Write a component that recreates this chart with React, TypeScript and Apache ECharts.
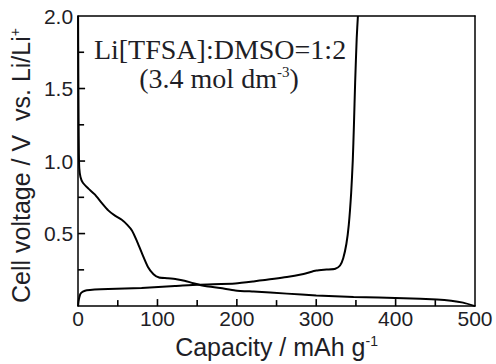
import React, { useEffect, useRef } from "react";
import * as echarts from "echarts";

// Capacity (mAh g^-1), voltage (V) pairs
const dischargeCapacity = [0, 0.3, 0.6, 1, 1.5, 3, 6, 13, 21, 30, 38, 46, 55, 62, 68, 74, 80, 88, 95, 102, 112, 124, 134, 145, 160, 179, 198, 221, 263, 300, 347, 410, 452, 470, 485, 500];
const dischargeVoltage = [2.0, 1.6, 1.3, 1.05, 0.95, 0.89, 0.85, 0.81, 0.77, 0.71, 0.66, 0.625, 0.595, 0.56, 0.52, 0.45, 0.37, 0.27, 0.22, 0.197, 0.192, 0.185, 0.175, 0.158, 0.138, 0.125, 0.108, 0.1, 0.086, 0.073, 0.063, 0.054, 0.045, 0.037, 0.024, 0.0];

const chargeCapacity = [0, 0.5, 1.5, 3, 6, 11, 38, 80, 122, 151, 198, 221, 263, 284, 300, 313, 324, 330, 334, 338, 341, 344, 346, 347.5, 349, 351, 352.5];
const chargeVoltage = [0.0, 0.03, 0.06, 0.085, 0.1, 0.11, 0.118, 0.125, 0.138, 0.148, 0.156, 0.17, 0.2, 0.222, 0.245, 0.252, 0.258, 0.28, 0.33, 0.43, 0.56, 0.78, 1.0, 1.25, 1.54, 1.85, 2.0];

const xTickLabels = ["0", "100", "200", "300", "400", "500"];
const yTickLabels = ["0.5", "1.0", "1.5", "2.0"];

// inward tick positions (major and minor)
const xTickValues = [50, 100, 150, 200, 250, 300, 350, 400, 450];
const yTickValues = [0.25, 0.5, 0.75, 1.0, 1.25, 1.5, 1.75];

const annotationLine1 = "Li[TFSA]:DMSO=1:2";
const annotationLine2 = "{a|(3.4 mol dm}{s|-3}{a|)}";

const pair = (xs: number[], ys: number[]) => xs.map((x, i) => [x, ys[i]]);

export default function App() {
  const ref = useRef<HTMLDivElement>(null);
  useEffect(() => {
    if (!ref.current) return;
    const chart = echarts.init(ref.current, null, { renderer: "svg" });
    const textColor = "#1e1e26";
    const sans = "'Liberation Sans', Arial, sans-serif";
    const serif = "'Liberation Serif', 'Times New Roman', serif";
    const frameAxis = {
      axisLine: { show: true, onZero: false, lineStyle: { color: "#000", width: 1.5 } },
      axisTick: { show: false },
      axisLabel: { show: false },
      splitLine: { show: false },
    };
    chart.setOption({
      animation: false,
      backgroundColor: "#fff",
      grid: { left: 78, top: 16, width: 397, height: 294 },
      xAxis: [
        {
          type: "value",
          position: "bottom",
          min: 0,
          max: 500,
          interval: 100,
          axisTick: { show: false },
          axisLine: { show: true, onZero: false, lineStyle: { color: "#000", width: 1.5 } },
          splitLine: { show: false },
          axisLabel: {
            margin: 2,
            fontSize: 21,
            fontFamily: sans,
            color: textColor,
            formatter: (v: number) => xTickLabels[Math.round(v / 100)] ?? "",
          },
          name: "{a|Capacity / mAh g}{s|-1}",
          nameLocation: "middle",
          nameGap: 24,
          nameTextStyle: {
            rich: {
              a: { fontSize: 25, fontFamily: sans, color: textColor },
              s: { fontSize: 14, fontFamily: sans, color: textColor, verticalAlign: "top" },
            },
          },
        },
        { type: "value", position: "top", min: 0, max: 500, ...frameAxis },
      ],
      yAxis: [
        {
          type: "value",
          position: "left",
          min: 0,
          max: 2.0,
          interval: 0.5,
          axisTick: { show: false },
          axisLine: { show: true, onZero: false, lineStyle: { color: "#000", width: 1.5 } },
          splitLine: { show: false },
          axisLabel: {
            margin: 5,
            fontSize: 21,
            fontFamily: sans,
            color: textColor,
            formatter: (v: number) => {
              const i = Math.round(v / 0.5) - 1;
              return i >= 0 ? yTickLabels[i] ?? "" : "";
            },
          },
          name: "{a|Cell voltage / V  vs. Li/Li}{s|+}",
          nameLocation: "middle",
          nameGap: 40,
          nameRotate: 90,
          nameTextStyle: {
            padding: [0, 9, 0, 0],
            rich: {
              a: { fontSize: 25, fontFamily: sans, color: textColor },
              s: { fontSize: 14, fontFamily: sans, color: textColor, verticalAlign: "top" },
            },
          },
        },
        { type: "value", position: "right", min: 0, max: 2.0, ...frameAxis },
      ],
      graphic: [
        {
          type: "text",
          x: 220,
          y: 35,
          style: {
            text: annotationLine1,
            font: `28px ${serif}`,
            fill: textColor,
            align: "center",
          },
        },
        {
          type: "text",
          x: 219,
          y: 64,
          style: {
            text: annotationLine2,
            fill: textColor,
            align: "center",
            rich: {
              a: { fontSize: 28, fontFamily: serif, fill: textColor },
              s: { fontSize: 15, fontFamily: serif, fill: textColor, verticalAlign: "top" },
            },
          },
        },
      ],
      series: [
        {
          type: "line",
          data: pair(dischargeCapacity, dischargeVoltage),
          showSymbol: false,
          smooth: 0.2,
          lineStyle: { color: "#000", width: 2 },
          clip: true,
        },
        {
          type: "line",
          data: pair(chargeCapacity, chargeVoltage),
          showSymbol: false,
          smooth: 0.2,
          lineStyle: { color: "#000", width: 2 },
          clip: true,
        },
        {
          type: "custom",
          clip: false,
          silent: true,
          z: 5,
          data: xTickValues.map((v) => [v, 0]),
          renderItem: (_params: any, api: any) => {
            const v = api.value(0);
            const p = api.coord([v, 0]);
            const len = v % 100 === 0 ? 7 : 6;
            return {
              type: "line",
              shape: { x1: p[0], y1: p[1], x2: p[0], y2: p[1] - len },
              style: { stroke: "#000", lineWidth: 1.6 },
            };
          },
        },
        {
          type: "custom",
          clip: false,
          silent: true,
          z: 5,
          data: yTickValues.map((v) => [0, v]),
          renderItem: (_params: any, api: any) => {
            const v = api.value(1);
            const p = api.coord([0, v]);
            const len = Math.abs(v * 2 - Math.round(v * 2)) < 1e-6 ? 7 : 6;
            return {
              type: "line",
              shape: { x1: p[0], y1: p[1], x2: p[0] + len, y2: p[1] },
              style: { stroke: "#000", lineWidth: 1.6 },
            };
          },
        },
      ],
    });
    return () => chart.dispose();
  }, []);
  return (
    <div
      ref={ref}
      style={{ position: "fixed", left: 0, top: 0, width: 496, height: 364, background: "#fff" }}
    />
  );
}
